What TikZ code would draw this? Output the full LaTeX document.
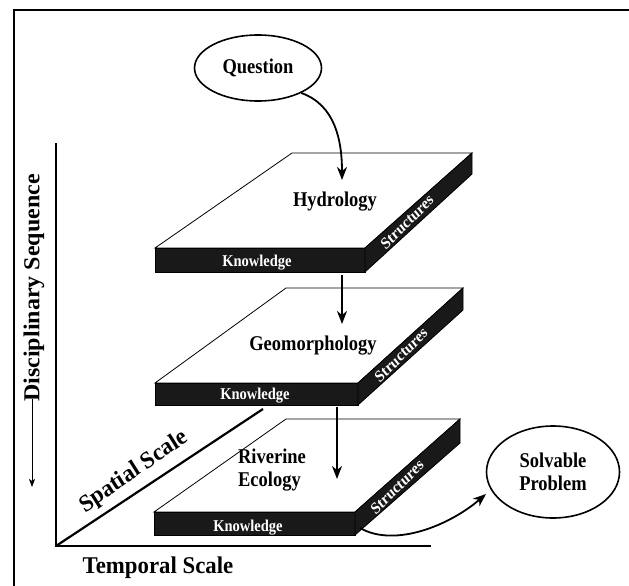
\documentclass[tikz,border=0pt]{standalone}
\usepackage{fontspec}
\setmainfont{Liberation Serif}
\usetikzlibrary{arrows.meta,shapes.geometric}
\tikzset{
  face/.style={fill=white,draw=black,line width=0.8pt,line join=miter},
  band/.style={fill=black!90,draw=black,line width=0.8pt},
  flow/.style={line width=1.8pt,-{Stealth[length=13pt,width=10pt,inset=4pt]}},
  axis/.style={line width=2.2pt},
  oval/.style={ellipse,draw,line width=1.6pt,inner sep=0pt,minimum width=#1},
  ovtext/.style={align=center,font=\bfseries\fontsize{21}{23}\selectfont,xscale=0.88,inner sep=0pt},
  disc/.style={font=\bfseries\fontsize{21}{23}\selectfont,xscale=0.88},
  wlab/.style={text=white,font=\bfseries\fontsize{16.5}{18}\selectfont,xscale=0.88,inner sep=0pt},
  axlab/.style={font=\bfseries\fontsize{24}{26}\selectfont,xscale=0.95,inner sep=0pt}
}
\begin{document}
\begin{tikzpicture}[x=1pt,y=-1pt]
\useasboundingbox (0,0) rectangle (629,586);
% frame
\draw[line width=1.2pt] (629,10) -- (14,10) -- (14,586);
% axes
\coordinate (o) at (56,546);
\coordinate (ytop) at (56,143);
\coordinate (xend) at (431,546);
\coordinate (zend) at (263,409);
\draw[axis] (ytop) -- (o) -- (xend);
\draw[axis] (o) -- (zend);
\node[axlab] (tlab) at (158,568) {Temporal Scale};
\node[axlab,rotate=33.5] (slab) at (134,472) {Spatial Scale};
\node[axlab,rotate=90] (dlab) at (34,288) {Disciplinary Sequence};
\coordinate (da) at (32,399);
\coordinate (db) at (32,487);
\draw[line width=0.7pt,-{Stealth[length=8pt,width=6pt,inset=2pt]}] (da) -- (db);

% slab 1
\draw[face] (155,248) -- (292,153) -- (472,153) -- (365,248) -- cycle;
\draw[band] (155,248) rectangle (365,272);
\draw[band] (365,248) -- (472,153) -- (472,174) -- (365,272) -- cycle;
\node[disc] (hyd) at (335,202) {Hydrology};
\node[wlab] (k1) at (257,263) {Knowledge};
\node[wlab,rotate=41.6] (s1) at (407,222) {Structures};

% slab 2
\draw[face] (155,383) -- (286,288) -- (463,288) -- (358,383) -- cycle;
\draw[band] (155,383) rectangle (358,405);
\draw[band] (358,383) -- (463,288) -- (463,310) -- (358,405) -- cycle;
\node[disc] (geo) at (313,346) {Geomorphology};
\node[wlab] (k2) at (255,396) {Knowledge};
\node[wlab,rotate=42] (s2) at (401,355) {Structures};

% slab 3
\draw[face] (154,512) -- (286,419) -- (460,419) -- (355,512) -- cycle;
\draw[band] (154,512) rectangle (355,535);
\draw[band] (355,512) -- (460,419) -- (460,443) -- (355,535) -- cycle;
\node[disc,align=left] (riv) at (272,470) {Riverine\\Ecology};
\node[wlab] (k3) at (248,528) {Knowledge};
\node[wlab,rotate=41.5] (s3) at (397,487) {Structures};

% ovals
\node[oval=127pt,minimum height=66pt] (q) at (258,68) {};
\node[ovtext] (qt) at (q.center) {Question};
\node[oval=133pt,minimum height=92pt] (sp) at (553,472) {};
\node[ovtext] (spt) at (sp.center) {Solvable\\Problem};

% flows
\coordinate (a1s) at (342,275);
\coordinate (a1e) at (342,324);
\coordinate (a2s) at (337,407);
\coordinate (a2e) at (337,479);
\coordinate (a0e) at (342,180);
\coordinate (a3s) at (360,528);
\coordinate (a3e) at (486,494);
\draw[flow] (q.-30) .. controls (335,105) and (342,140) .. (a0e);
\draw[flow] (a1s) -- (a1e);
\draw[flow] (a2s) -- (a2e);
\draw[flow] (a3s) .. controls (395,548) and (450,525) .. (a3e);
\end{tikzpicture}
\end{document}
